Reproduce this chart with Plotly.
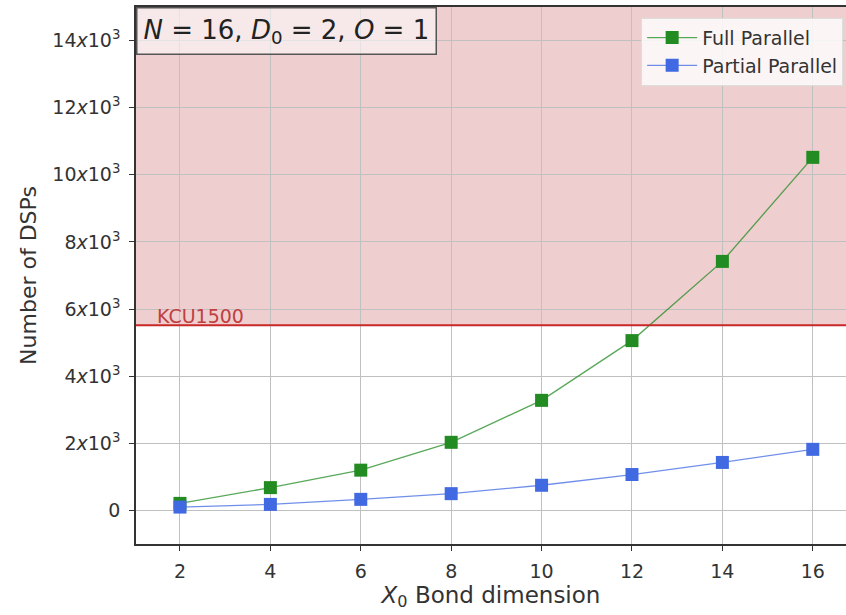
import plotly.graph_objects as go

bond_dim = [2, 4, 6, 8, 10, 12, 14, 16]
full_parallel = [210, 680, 1200, 2030, 3280, 5060, 7420, 10520]
partial_parallel = [100, 180, 330, 500, 750, 1070, 1430, 1820]
kcu1500_dsps = 5520
y_ticks = [0, 2000, 4000, 6000, 8000, 10000, 12000, 14000]
y_tick_labels = ["0"] + [f"{v//1000}<i>x</i>10<sup>3</sup>" for v in y_ticks[1:]]
x_ticks = [2, 4, 6, 8, 10, 12, 14, 16]

FONT = "DejaVu Sans"
GREEN = "#228B22"
BLUE = "#4169E1"
RED = "#C82828"

fig = go.Figure()
fig.add_trace(go.Scatter(
    x=bond_dim, y=full_parallel, mode="lines+markers", name="Full Parallel",
    line=dict(color="rgba(34,139,34,0.75)", width=1.3),
    marker=dict(symbol="square", size=13, color=GREEN),
))
fig.add_trace(go.Scatter(
    x=bond_dim, y=partial_parallel, mode="lines+markers", name="Partial Parallel",
    line=dict(color="rgba(65,105,225,0.75)", width=1.3),
    marker=dict(symbol="square", size=13, color=BLUE),
))

fig.add_shape(type="rect", xref="paper", yref="y", x0=0, x1=1, y0=kcu1500_dsps, y1=15000,
              fillcolor="rgba(178,34,34,0.22)", line=dict(width=0), layer="below")
fig.add_shape(type="line", xref="paper", yref="y", x0=0, x1=1, y0=kcu1500_dsps, y1=kcu1500_dsps,
              line=dict(color=RED, width=2))
fig.add_annotation(x=1.45, y=kcu1500_dsps, xref="x", yref="y", text="KCU1500", showarrow=False,
                   xanchor="left", yanchor="bottom", yshift=-4,
                   font=dict(family=FONT, size=19, color="#C04040"))
fig.add_annotation(x=0.0, y=1.0, xref="paper", yref="paper",
                   text="<i>N</i> = 16, <i>D</i><sub>0</sub> = 2, <i>O</i> = 1",
                   showarrow=False, xanchor="left", yanchor="top", align="left",
                   font=dict(family=FONT, size=26, color="#222"),
                   bgcolor="rgba(255,255,255,0.55)", bordercolor="#555", borderwidth=1.5, borderpad=6)

fig.update_layout(
    width=846, height=615,
    margin=dict(l=136, r=0, t=7, b=71),
    plot_bgcolor="white", paper_bgcolor="white",
    font=dict(family=FONT, size=18, color="#333"),
    showlegend=True,
    legend=dict(x=0.996, y=0.98, xanchor="right", yanchor="top",
                bgcolor="rgba(255,255,255,0.8)", bordercolor="#ddd", borderwidth=1,
                itemwidth=50, tracegroupgap=2,
                font=dict(family=FONT, size=19, color="#333")),
    xaxis=dict(range=[1.027, 16.735], tickvals=x_ticks, showgrid=True, gridcolor="#c0c0c0", gridwidth=1,
               showline=True, linecolor="#333", linewidth=1.5, mirror=True,
               ticks="outside", ticklen=5, tickcolor="#333", zeroline=False,
               ticklabelstandoff=4, tickfont=dict(size=19),
               title=dict(text="<i>X</i><sub>0</sub> Bond dimension", font=dict(family=FONT, size=23, color="#333"), standoff=6)),
    yaxis=dict(range=[-1000, 15000], tickvals=y_ticks, ticktext=y_tick_labels, showgrid=True, gridcolor="#c0c0c0", gridwidth=1,
               showline=True, linecolor="#333", linewidth=1.5,
               ticks="outside", ticklen=5, tickcolor="#333", zeroline=False,
               ticklabelstandoff=5, tickfont=dict(size=19),
               title=dict(text="Number of DSPs", font=dict(family=FONT, size=22, color="#333"), standoff=10)),
)

fig.write_html("out.html")
